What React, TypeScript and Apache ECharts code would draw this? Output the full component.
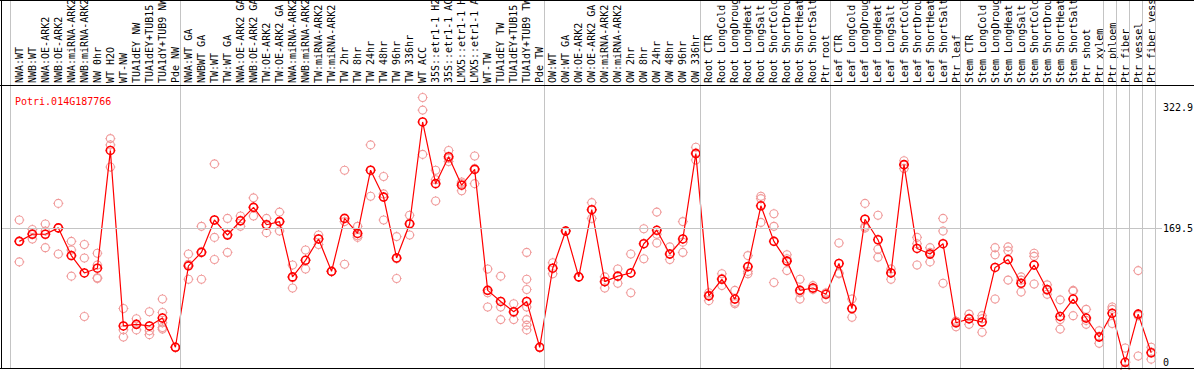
import React, { useEffect, useRef } from "react";
import * as echarts from "echarts";

const geneId = "Potri.014G187766";

const categories = [
  "NWA:WT", "NWB:WT", "NWA:OE-ARK2", "NWB:OE-ARK2", "NWA:miRNA-ARK2", "NWB:miRNA-ARK2",
  "NW 0hr", "WT H2O", "WT-NW", "TUA1dEY NW", "TUA1dEY+TUB15 NW", "TUA1dY+TUB9 NW", "Pde NW",
  "NWA:WT GA", "NWBWT GA", "TW:WT", "TW:WT GA", "NWA:OE-ARK2 GA", "NWB:OE-ARK2 GA",
  "TW:OE-ARK2", "TW:OE-ARK2 GA", "NWA:miRNA-ARK2 GA", "NWB:miRNA-ARK2 GA", "TW:miRNA-ARK2",
  "TW:miRNA-ARK2 GA", "TW 2hr", "TW 8hr", "TW 24hr", "TW 48hr", "TW 96hr", "TW 336hr",
  "WT ACC", "35S::etr1-1 H2O", "35S::etr1-1 ACC", "LMX5::etr1-1 H2O", "LMX5::etr1-1 ACC",
  "WT-TW", "TUA1dEY TW", "TUA1dEY+TUB15 TW", "TUA1dY+TUB9 TW", "Pde TW",
  "OW:WT", "OW:WT GA", "OW:OE-ARK2", "OW:OE-ARK2 GA", "OW:miRNA-ARK2", "OW:miRNA-ARK2 GA",
  "OW 2hr", "OW 8hr", "OW 24hr", "OW 48hr", "OW 96hr", "OW 336hr",
  "Root CTR", "Root LongCold", "Root LongDrought", "Root LongHeat", "Root LongSalt",
  "Root ShortCold", "Root ShortDrought", "Root ShortHeat", "Root ShortSalt", "Ptr root",
  "Leaf CTR", "Leaf LongCold", "Leaf LongDrought", "Leaf LongHeat", "Leaf LongSalt",
  "Leaf ShortCold", "Leaf ShortDrought", "Leaf ShortHeat", "Leaf ShortSalt", "Ptr leaf",
  "Stem CTR", "Stem LongCold", "Stem LongDrought", "Stem LongHeat", "Stem LongSalt",
  "Stem ShortCold", "Stem ShortDrought", "Stem ShortHeat", "Stem ShortSalt", "Ptr shoot",
  "Ptr xylem", "Ptr phloem", "Ptr fiber", "Ptr vessel", "Ptr fiber vessel",
];

const means = [
  153, 162, 162, 170, 135, 113, 119, 268, 46, 48, 46, 56, 19,
  122, 139, 180, 161, 179, 196, 174, 178, 108, 129, 156, 115, 182, 163, 243, 209, 132, 175,
  304, 226, 260, 224, 244, 91, 77, 64, 77, 19,
  119, 166, 108, 193, 102, 109, 113, 150, 167, 137, 156, 264,
  84, 105, 80, 121, 198, 153, 128, 91, 94, 86,
  125, 68, 181, 155, 113, 250, 144, 137, 150, 50,
  55, 51, 120, 130, 100, 123, 92, 58, 80, 56, 32,
  62, 0, 61, 12,
];

const replicates = [
  [180, 127, 153], [168, 156, 163], [175, 145, 166], [201, 137, 170], [153, 142, 109],
  [149, 132, 58], [138, 123, 107, 106], [283, 275, 247], [68, 41, 32], [55, 41, 48],
  [64, 35, 40], [80, 63, 50, 42, 44], [19, 19, 19],
  [137, 105, 124], [172, 105, 140], [251, 158, 130], [182, 139, 162], [185, 172, 179],
  [208, 185, 196], [182, 164, 174], [190, 166, 178], [123, 94, 107], [142, 118, 129],
  [161, 149, 156], [115, 115, 115], [243, 124, 178], [172, 158, 160], [275, 210, 243],
  [235, 213, 180], [159, 106, 131], [186, 161, 176], [335, 319, 263], [243, 231, 204],
  [268, 254, 258], [228, 217, 226], [261, 226, 245], [118, 70, 88], [109, 70, 54],
  [74, 54, 63], [139, 105, 92, 70, 54, 47, 41], [19, 19, 19],
  [126, 112, 119], [166, 166], [108, 108], [202, 182, 193], [108, 94, 102], [118, 100, 109],
  [137, 88, 113], [169, 131, 150], [190, 151, 162], [146, 130, 137], [178, 139, 152],
  [272, 256, 265],
  [88, 78, 85], [112, 97, 106], [91, 74, 76], [135, 112, 115], [210, 177, 207],
  [188, 172, 101], [136, 116, 131], [105, 80, 88], [97, 92], [80, 88],
  [151, 113, 112], [80, 57, 68], [201, 170, 172], [186, 143, 133], [118, 105, 113],
  [255, 245, 250], [158, 123, 150], [145, 127, 139], [182, 166, 100], [45, 52, 52],
  [61, 48, 55], [59, 38, 55], [145, 136, 80], [146, 141, 104], [108, 89, 104],
  [138, 134, 99], [98, 86, 91], [79, 54, 42], [91, 59, 90], [67, 48, 53], [40, 24, 33],
  [70, 49, 67], [18, -9, -8], [116, 8, 59], [19, 4, 13],
];

// indices of category slots where a group separator is drawn
const groupBoundaries = [0, 13, 41, 53, 63, 73, 84, 85, 86, 87, 88];
const yTickValues = [0, 169.5, 322.9];
const yTickLabels = ["0", "169.5", "322.9"];
const referenceLine = 169.5;

const MONO = "'DejaVu Sans Mono', 'Liberation Mono', monospace";
const MARKER =
  "path://M10,0L10,2M10,18L10,20M0,10L2,10M18,10L20,10" +
  "M2,10C2,5.582 5.582,2 10,2C14.418,2 18,5.582 18,10C18,14.418 14.418,18 10,18C5.582,18 2,14.418 2,10Z";
const SEP_OFFSET = 0.661;

export default function App() {
  const ref = useRef<HTMLDivElement>(null);

  useEffect(() => {
    if (!ref.current) return;
    const chart = echarts.init(ref.current, undefined, { renderer: "svg" });

    const repData: number[][] = [];
    replicates.forEach((reps, i) => reps.forEach((r) => repData.push([i, r])));
    const meanData = means.map((m, i) => [i, m]);

    chart.setOption({
      animation: false,
      backgroundColor: "#ffffff",
      title: {
        text: geneId,
        left: 10,
        top: 91,
        textStyle: { color: "#ff0000", fontSize: 10, fontWeight: "normal", fontFamily: MONO },
      },
      grid: {
        left: 2,
        right: 32,
        top: 0,
        bottom: 2,
        containLabel: false,
        outerBoundsMode: "none",
      },
      xAxis: {
        type: "value",
        position: "top",
        offset: -85,
        min: -1.33,
        max: 87.83,
        axisLine: { show: false },
        axisTick: { show: false },
        splitLine: { show: false },
        axisLabel: {
          customValues: categories.map((_, i) => i),
          formatter: (v: number) => categories[Math.round(v)] ?? "",
          rotate: 90,
          margin: 2,
          color: "#000000",
          fontSize: 10,
          fontFamily: MONO,
          hideOverlap: false,
        },
      },
      yAxis: {
        type: "value",
        position: "right",
        min: -7.21,
        max: 458.3,
        axisLine: { show: false },
        axisTick: { show: false },
        splitLine: { show: false },
        axisLabel: {
          customValues: yTickValues,
          formatter: (v: number) => {
            const idx = yTickValues.findIndex((t) => Math.abs(t - v) < 1e-6);
            return idx >= 0 ? yTickLabels[idx] : "";
          },
          margin: 1,
          color: "#000000",
          fontSize: 10,
          fontFamily: MONO,
          align: "left",
        },
      },
      graphic: [
        { type: "line", silent: true, z: 100, shape: { x1: 0, y1: 0.5, x2: 1194, y2: 0.5 }, style: { stroke: "#000", lineWidth: 1 } },
        { type: "line", silent: true, z: 100, shape: { x1: 0, y1: 85.5, x2: 1194, y2: 85.5 }, style: { stroke: "#000", lineWidth: 1 } },
        { type: "line", silent: true, z: 100, shape: { x1: 1.5, y1: 0, x2: 1.5, y2: 369 }, style: { stroke: "#000", lineWidth: 1 } },
        { type: "line", silent: true, z: 100, shape: { x1: 0, y1: 368.5, x2: 1194, y2: 368.5 }, style: { stroke: "#000", lineWidth: 1 } },
      ],
      series: [
        {
          type: "scatter",
          name: "replicates",
          data: repData,
          symbol: MARKER,
          symbolSize: 10,
          clip: false,
          z: 2,
          itemStyle: { color: "rgba(0,0,0,0)", borderColor: "#f09a9a", borderWidth: 1.1, opacity: 1 },
          markLine: {
            silent: true,
            symbol: ["none", "none"],
            label: { show: false },
            lineStyle: { color: "#c4c4c4", width: 1, type: "solid" },
            data: [
              ...groupBoundaries.map((k) => ({ xAxis: k - SEP_OFFSET })),
              { yAxis: referenceLine },
            ],
          },
        },
        {
          type: "line",
          name: "mean",
          data: meanData,
          symbol: "none",
          z: 3,
          lineStyle: { color: "#ff0000", width: 1.2 },
        },
        {
          type: "scatter",
          name: "meanMarkers",
          data: meanData,
          symbol: MARKER,
          symbolSize: 10,
          clip: false,
          z: 4,
          itemStyle: { color: "rgba(0,0,0,0)", borderColor: "#ff0000", borderWidth: 1.6, opacity: 1 },
        },
      ],
    });

    return () => chart.dispose();
  }, []);

  return (
    <div
      ref={ref}
      style={{ position: "fixed", left: 0, top: 0, width: 1194, height: 370, background: "#fff" }}
    />
  );
}
